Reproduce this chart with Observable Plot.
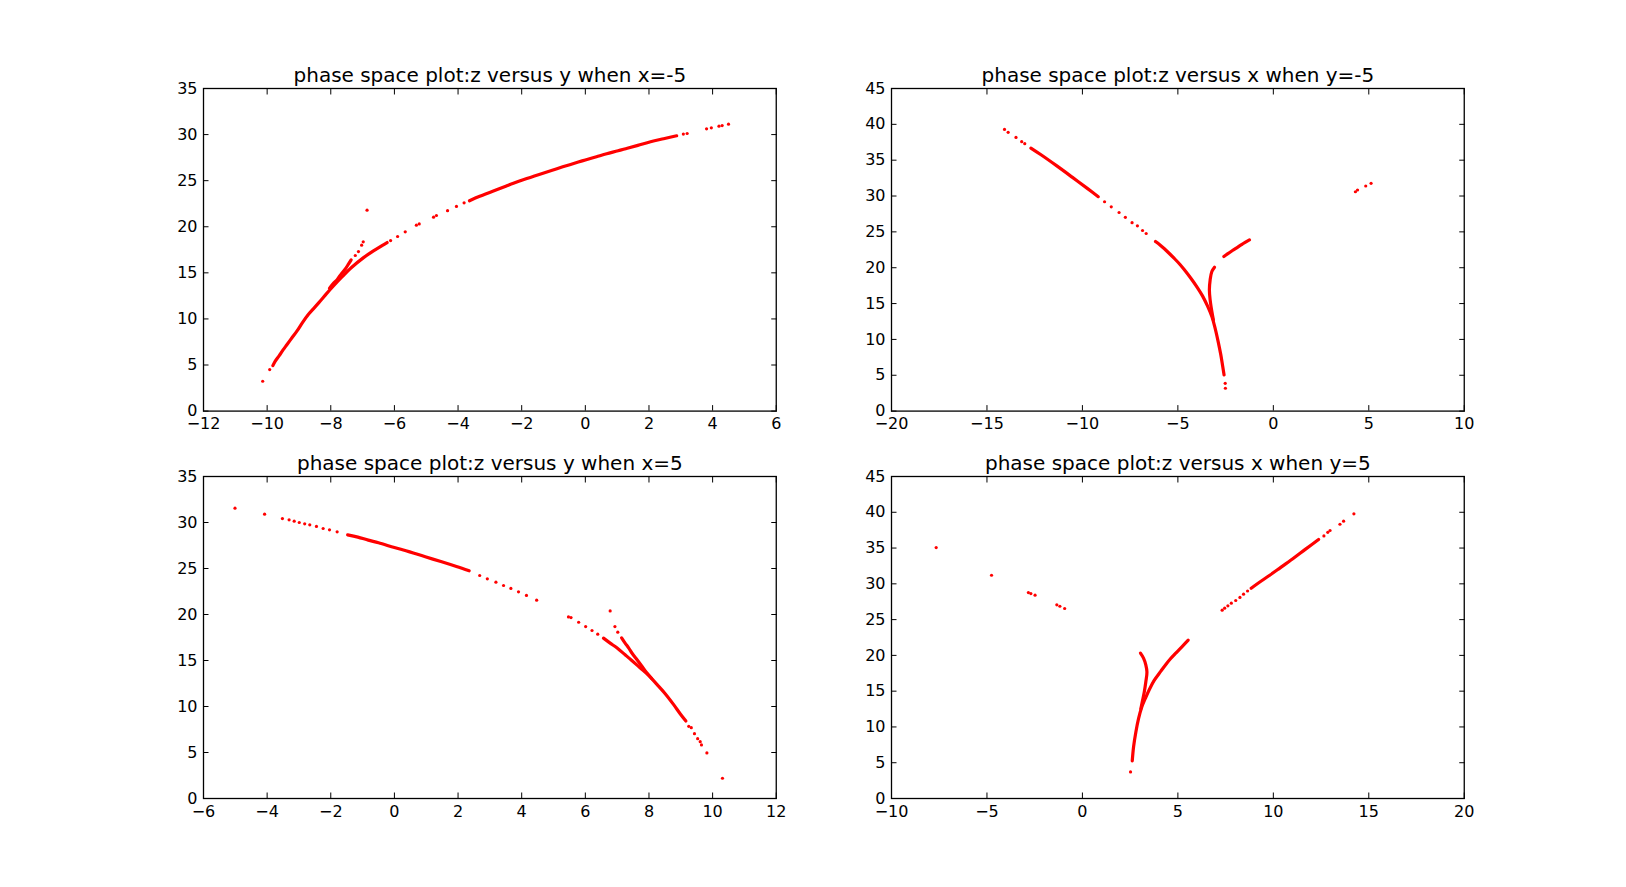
<!DOCTYPE html>
<html>
<head>
<meta charset="utf-8">
<script src="https://cdn.jsdelivr.net/npm/d3@7"></script>
<script src="https://cdn.jsdelivr.net/npm/@observablehq/plot@0.6"></script>
<style>
html,body{margin:0;padding:0;background:#fff;}
#page{position:relative;width:1626px;height:887px;overflow:hidden;}
#page svg{position:absolute;background:none;}
</style>
</head>
<body>
<div id="page"></div>
<script>
const titles = [
  "phase space plot:z versus y when x=-5",
  "phase space plot:z versus x when y=-5",
  "phase space plot:z versus y when x=5",
  "phase space plot:z versus x when y=5"
];
const xTicksA = [-12,-10,-8,-6,-4,-2,0,2,4,6];
const xTicksB = [-20,-15,-10,-5,0,5,10];
const xTicksC = [-6,-4,-2,0,2,4,6,8,10,12];
const xTicksD = [-10,-5,0,5,10,15,20];
const zTicksSmall = [0,5,10,15,20,25,30,35];
const zTicksLarge = [0,5,10,15,20,25,30,35,40,45];

// Panel 1: z versus y, x=-5
const a1Main = [[-9.82,4.94],[-9.75,5.4],[-9.62,6.02],[-9.5,6.64],[-9.38,7.2],[-9.22,7.95],[-9.06,8.7],[-8.89,9.6],[-8.7,10.5],[-8.52,11.2],[-8.33,11.95],[-8.14,12.72],[-7.91,13.6],[-7.65,14.55],[-7.34,15.6],[-6.97,16.65],[-6.66,17.38],[-6.39,17.96],[-6.23,18.29]];
const a1Upper = [[-8.04,13.33],[-7.91,13.88],[-7.79,14.31],[-7.67,14.89],[-7.55,15.39],[-7.44,15.97],[-7.36,16.41]];
const a1Long = [[-3.64,22.82],[-3.32,23.3],[-2.91,23.85],[-2.5,24.4],[-2.26,24.72],[-1.93,25.13],[-1.45,25.68],[-1.04,26.13],[-0.71,26.5],[-0.22,27.02],[0,27.25],[0.35,27.6],[0.67,27.92],[1.03,28.24],[1.32,28.52],[1.65,28.83],[2.05,29.22],[2.46,29.55],[2.87,29.87]];
const a1Sparse = [[-10.14,3.24],[-9.92,4.5],[-6.12,18.5],[-5.9,18.94],[-5.66,19.45],[-5.31,20.17],[-5.22,20.31],[-4.77,21.04],[-4.68,21.22],[-4.33,21.74],[-4.05,22.21],[-3.81,22.6],[3.08,30.05],[3.2,30.12],[3.81,30.62],[3.96,30.73],[4.2,30.91],[4.3,30.98],[4.5,31.13],[-6.86,21.8],[-6.98,18.36],[-7.03,18],[-7.13,17.31],[-7.23,16.88]];

// Panel 2: z versus x, y=-5
const b2Main = [[-6.17,23.65],[-5.95,23.2],[-5.72,22.68],[-5.46,22.02],[-5.2,21.33],[-4.9,20.49],[-4.67,19.75],[-4.32,18.53],[-3.97,17.2],[-3.71,16.07],[-3.45,14.67],[-3.22,13.19],[-3.07,11.79],[-2.89,9.7],[-2.75,7.84],[-2.65,6.21],[-2.58,5.05]];
const b2Inner = [[-3.08,20.07],[-3.22,19.47],[-3.31,18.3],[-3.35,16.91],[-3.31,15.51],[-3.22,13.88],[-3.14,12.72]];
const b2Right = [[-2.59,21.56],[-2.4,21.93],[-2.14,22.4],[-1.88,22.85],[-1.62,23.3],[-1.41,23.65],[-1.25,23.88]];
const b2Long = [[-12.7,36.69],[-12.15,35.72],[-11.34,34.2],[-10.52,32.6],[-9.71,31],[-9.17,29.91]];
const b2Sparse = [[-14.08,39.29],[-13.89,38.88],[-13.48,38.18],[-13.18,37.58],[-13.02,37.3],[-8.84,29.2],[-8.49,28.5],[-8.08,27.7],[-7.75,27.03],[-7.4,26.29],[-7.12,25.84],[-6.85,25.19],[-6.66,24.77],[-2.52,3.88],[-2.51,3.19],[4.3,30.6],[4.41,30.84],[4.84,31.4],[5.12,31.77]];

// Panel 3: z versus y, x=5
const c3Main = [[6.57,17.43],[6.78,16.89],[6.99,16.38],[7.25,15.62],[7.46,15],[7.72,14.21],[7.99,13.38],[8.25,12.4],[8.51,11.39],[8.77,10.23],[8.98,9.22],[9.16,8.42]];
const c3Upper = [[7.14,17.46],[7.25,16.89],[7.36,16.38],[7.48,15.73],[7.62,15.11],[7.76,14.46],[7.91,13.74],[8.09,13.02]];
const c3Long = [[-1.47,28.66],[-1.15,28.41],[-0.82,28.08],[-0.5,27.79],[0,27.28],[0.48,26.81],[0.97,26.27],[1.46,25.76],[1.95,25.22],[2.35,24.75]];
const c3Sparse = [[-5.01,31.56],[-4.08,30.9],[-3.52,30.43],[-3.31,30.29],[-3.15,30.14],[-2.99,30],[-2.82,29.86],[-2.66,29.75],[-2.45,29.57],[-2.24,29.35],[-2.04,29.2],[-1.8,28.99],[2.68,24.24],[2.92,23.88],[3.19,23.51],[3.43,23.15],[3.66,22.83],[3.9,22.46],[4.15,22.07],[4.47,21.56],[5.47,19.74],[5.55,19.67],[5.79,19.16],[6.01,18.69],[6.21,18.26],[6.39,17.86],[9.25,7.84],[9.33,7.7],[9.43,7.05],[9.53,6.5],[9.61,6.18],[9.65,5.82],[9.82,4.95],[10.31,2.2],[6.78,20.39],[6.93,18.69],[7.02,18.08]];

// Panel 4: z versus x, y=5
const d4Main = [[2.61,5.25],[2.68,7.24],[2.8,9.3],[2.94,11.16],[3.11,12.79],[3.29,13.95],[3.5,15.2],[3.76,16.5],[4.11,17.8],[4.37,18.74],[4.6,19.5],[4.89,20.33],[5.21,21.2],[5.54,22.13]];
const d4Inner = [[3.04,20.32],[3.2,19.62],[3.32,18.69],[3.38,17.67],[3.32,16.27],[3.24,14.88],[3.15,13.72],[3.06,12.55]];
const d4Long = [[8.84,29.39],[9.2,30.09],[9.79,31.16],[10.34,32.2],[11.02,33.5],[11.69,34.85],[12.37,36.19]];
const d4Sparse = [[2.52,3.72],[-7.66,35.07],[-4.76,31.2],[-2.83,28.78],[-2.7,28.64],[-2.48,28.41],[-1.34,27.06],[-1.18,26.87],[-0.93,26.55],[7.32,26.32],[7.45,26.6],[7.62,26.92],[7.8,27.3],[8.03,27.67],[8.25,28.1],[8.44,28.55],[8.65,29],[12.65,36.7],[12.85,37.2],[12.97,37.45],[13.49,38.33],[13.68,38.75],[14.22,39.78]];

const panels = [
  {title:titles[0], xd:[-12,6],  xt:xTicksA, zd:[0,35], zt:zTicksSmall, runs:[a1Main,a1Upper,a1Long], dots:a1Sparse, left:203.25, top:88.2, H:322.6},
  {title:titles[1], xd:[-20,10], xt:xTicksB, zd:[0,45], zt:zTicksLarge, runs:[b2Main,b2Inner,b2Right,b2Long], dots:b2Sparse, left:890.7, top:88.2, H:322.6},
  {title:titles[2], xd:[-6,12],  xt:xTicksC, zd:[0,35], zt:zTicksSmall, runs:[c3Main,c3Upper,c3Long], dots:c3Sparse, left:203.25, top:475.8, H:322},
  {title:titles[3], xd:[-10,20], xt:xTicksD, zd:[0,45], zt:zTicksLarge, runs:[d4Main,d4Inner,d4Long], dots:d4Sparse, left:890.7, top:475.8, H:322}
];

const mL=70, mR=30, mT=40, mB=40, W=572.75, TICK=5.5;
const page = document.getElementById("page");

for (const p of panels) {
  const svg = Plot.plot({
    width: W+mL+mR, height: p.H+mT+mB,
    marginLeft: mL, marginRight: mR, marginTop: mT, marginBottom: mB,
    style: {fontFamily:"'DejaVu Sans'", fontSize:"16px", color:"#000", background:"none", overflow:"visible"},
    x: {domain:p.xd, ticks:p.xt},
    y: {domain:p.zd, ticks:p.zt},
    marks: [
      ...p.runs.map(r => Plot.line(r, {x:d=>d[0], y:d=>d[1], stroke:"#ff0000", strokeWidth:3.2, curve:"catmull-rom", strokeLinecap:"round"})),
      Plot.dot(p.dots, {x:d=>d[0], y:d=>d[1], r:1.6, fill:"#ff0000"}),
      Plot.axisX({anchor:"bottom", ticks:p.xt, label:null, tickSize:-TICK, tickPadding:TICK+7, lineAnchor:"top", fill:"#000"}),
      Plot.axisX({anchor:"top", ticks:p.xt, label:null, tickSize:-TICK, fill:"none"}),
      Plot.axisY({anchor:"left", ticks:p.zt, label:null, tickSize:-TICK, tickPadding:TICK+6, fill:"#000"}),
      Plot.axisY({anchor:"right", ticks:p.zt, label:null, tickSize:-TICK, fill:"none"}),
      Plot.frame({stroke:"#000", strokeWidth:1.3}),
      Plot.text([p.title], {frameAnchor:"top", dy:-13, fontSize:20, fill:"#000", lineAnchor:"middle", text:d=>d})
    ]
  });
  svg.style.left = (p.left-mL)+"px";
  svg.style.top = (p.top-mT)+"px";
  page.appendChild(svg);
}
</script>
</body>
</html>
